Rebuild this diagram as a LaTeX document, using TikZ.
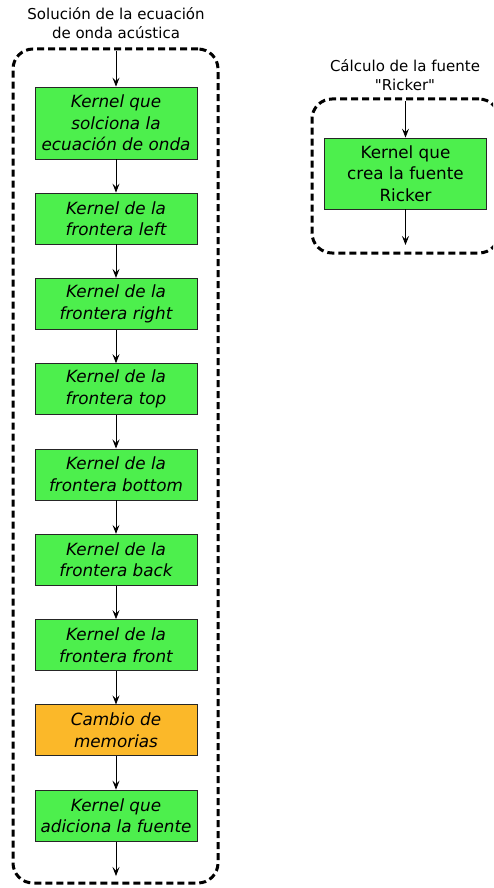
\documentclass[tikz,border=0pt]{standalone}
\usepackage{fontspec}
\setmainfont{DejaVu Sans}[Ligatures=TeXOff]
\usetikzlibrary{arrows.meta}
\definecolor{kgreen}{HTML}{4DEF4D}
\definecolor{korange}{HTML}{FBB829}
\tikzset{
  container/.style={draw=black, line width=3pt, dash pattern=on 7pt off 4pt, rounded corners=20pt, inner sep=0pt},
  kbox/.style={draw=black!85, line width=0.8pt, fill=kgreen, minimum width=162pt, inner sep=0pt, align=center, font=\fontsize{16.8}{21.5}\selectfont\itshape},
  kboxup/.style={kbox, font=\fontsize{16.8}{21.5}\selectfont},
  obox/.style={kbox, fill=korange},
  title/.style={align=center, inner sep=0pt, font=\fontsize{15}{19.5}\selectfont},
  flow/.style={draw=black, line width=0.8pt, -{Stealth[length=9pt,width=7pt,inset=3.5pt]}}
}
\begin{document}
\begin{tikzpicture}[x=1pt,y=-1pt]
\clip (0,0) rectangle (493,888);
\fill[white] (0,0) rectangle (493,888);
% left group
\node[title] (t1) at (116,23) {Solución de la ecuación\\de onda acústica};
\node[container, minimum width=205pt, minimum height=834pt] (c1) at (115.5,466) {};
\node[kbox, minimum height=72pt] (b1) at (116,123) {Kernel que\\solciona la\\ecuación de onda};
\node[kbox, minimum height=51pt] (b2) at (116,218.5) {Kernel de la\\frontera left};
\node[kbox, minimum height=51pt] (b3) at (116,303.8) {Kernel de la\\frontera right};
\node[kbox, minimum height=51pt] (b4) at (116,389.1) {Kernel de la\\frontera top};
\node[kbox, minimum height=51pt] (b5) at (116,474.4) {Kernel de la\\frontera bottom};
\node[kbox, minimum height=51pt] (b6) at (116,559.7) {Kernel de la\\frontera back};
\node[kbox, minimum height=51pt] (b7) at (116,645) {Kernel de la\\frontera front};
\node[obox, minimum height=51pt] (b8) at (116,730.3) {Cambio de\\memorias};
\node[kbox, minimum height=51pt] (b9) at (116,815.6) {Kernel que\\adiciona la fuente};
\coordinate (s1) at (116,51);
\coordinate (e1) at (116,876);
\draw[flow] (s1) -- (b1);
\draw[flow] (b1) -- (b2);
\draw[flow] (b2) -- (b3);
\draw[flow] (b3) -- (b4);
\draw[flow] (b4) -- (b5);
\draw[flow] (b5) -- (b6);
\draw[flow] (b6) -- (b7);
\draw[flow] (b7) -- (b8);
\draw[flow] (b8) -- (b9);
\draw[flow] (b9) -- (e1);
% right group
\node[title] (t2) at (405,75) {Cálculo de la fuente\\"Ricker"};
\node[container, minimum width=187pt, minimum height=154pt] (c2) at (405.5,176) {};
\node[kboxup, minimum height=71pt] (r1) at (405.5,173.5) {Kernel que\\crea la fuente\\Ricker};
\coordinate (s2) at (405.5,101);
\coordinate (e2) at (405.5,245);
\draw[flow] (s2) -- (r1);
\draw[flow] (r1) -- (e2);
\end{tikzpicture}
\end{document}
